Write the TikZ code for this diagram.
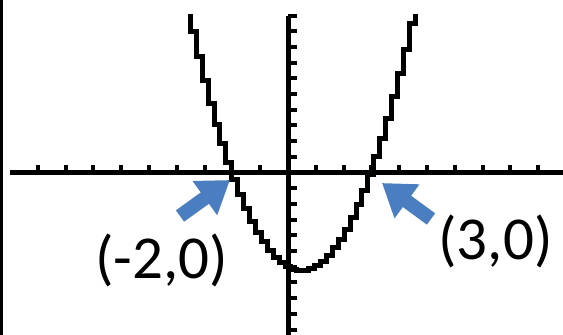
\documentclass[tikz,border=0pt]{standalone}
\usepackage{fontspec}
\setmainfont{Carlito}
\usetikzlibrary{arrows.meta}
\definecolor{cb}{RGB}{74, 126, 193}

\begin{document}
\begin{tikzpicture}[
  axisline/.style={line width=5pt, color=black},
  tickmark/.style={line width=4pt, color=black},
  curve/.style={line width=5pt, color=black},
  blockarrow/.style={line width=14pt, color=cb, -{Triangle[width=40pt, length=31pt]}},
  lbl/.style={font=\fontsize{61}{70}\selectfont, anchor=base, inner sep=0pt},
  declare function={f(\t)=\t*\t-\t-6;}]
\useasboundingbox [fill=white] (0pt, 0pt) rectangle (563pt, -335pt);
\fill [black] (0pt, 0pt) rectangle (3pt, -335pt);
\begin{scope}[shift={(288pt, -172.5pt)}, x=27.8pt, y=15.7pt]
\coordinate (xl) at (-10.0, 0);
\coordinate (xr) at (9.9, 0);
\coordinate (yt) at (0, 10.0);
\coordinate (yb) at (0, -10.4);
\draw [axisline] (xl) -- (xr);
\draw [axisline] (yt) -- (yb);
\foreach \k in {-9,...,-1,1,2,...,9}
  \draw [tickmark] (\k, 0) -- ++(0pt, 8pt);
\foreach \k in {-10,...,-1,1,2,...,10}
  \draw [tickmark] (0, \k) -- ++(9pt, 0pt);
% calculator style stepped graph
\begin{scope}
\clip (-5, -8) rectangle (5, 10.05);
\draw [curve] ({-3.617-0.1064}, {f(-3.617)})
  \foreach \i in {0,...,39} {
    -- ({-3.617+0.21277*\i+0.1064}, {f(-3.617+0.21277*\i)})
    -- ({-3.617+0.21277*\i+0.1064}, {f(-3.617+0.21277*(\i+1))})
  };
\end{scope}
\end{scope}
\node (lblA) [lbl] at (161.5pt, -278.0pt) {(-2,0)};
\node (lblB) [lbl] at (495.5pt, -259.0pt) {(3,0)};
\coordinate (tailA) at (180.0pt, -216.0pt);
\coordinate (tipA) at (230.0pt, -180.0pt);
\coordinate (tailB) at (431.0pt, -219.0pt);
\coordinate (tipB) at (382.0pt, -183.0pt);
\draw [blockarrow] (tailA) -- (tipA);
\draw [blockarrow] (tailB) -- (tipB);
\end{tikzpicture}
\end{document}
